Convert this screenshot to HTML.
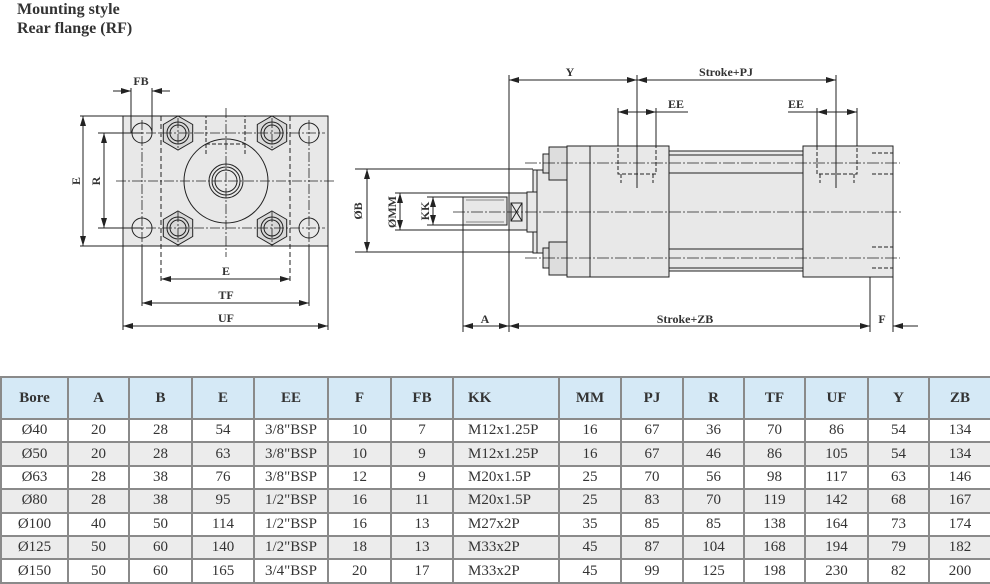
<!DOCTYPE html>
<html><head><meta charset="utf-8"><style>
html,body{margin:0;padding:0;background:#fff;}
body{width:990px;height:582px;position:relative;overflow:hidden;font-family:"Liberation Serif",serif;}
.t{position:absolute;left:17px;font-weight:bold;font-size:16px;color:#333;}
svg{position:absolute;left:0;top:0;}
table{position:absolute;left:0;top:376px;border-collapse:collapse;table-layout:fixed;width:990px;font-family:"Liberation Serif",serif;font-size:15px;color:#333;}
td,th{border:2px solid #8a8a8a;text-align:center;padding:0;}
th{background:#d5e9f6;height:40px;font-weight:bold;}
td{height:21.4px;}
tr.g td{background:#ececec;}
td.l{text-align:left;padding-left:14px;}
</style></head><body>
<div class="t" style="top:1px">Mounting style</div>
<div class="t" style="top:20px">Rear flange (RF)</div>
<svg width="990" height="376" viewBox="0 0 990 376" font-family="Liberation Serif, serif" font-size="12" font-weight="bold" fill="#333">
<defs>
<marker id="a" viewBox="0 0 10 6" refX="10" refY="3" markerWidth="10" markerHeight="6" orient="auto-start-reverse"><path d="M0,0L10,3L0,6z" fill="#222"/></marker>
</defs>
<g stroke="#222" stroke-width="1" fill="none">
<rect x="123" y="116" width="205" height="130" fill="#e8e8e8"/>
<line x1="161" y1="116" x2="161" y2="283" stroke-dasharray="5,3"/>
<line x1="290" y1="116" x2="290" y2="283" stroke-dasharray="5,3"/>
<rect x="206" y="116" width="39" height="28" stroke-dasharray="4,2"/>
<line x1="206" y1="144" x2="206" y2="154" stroke-dasharray="4,2"/>
<line x1="245" y1="144" x2="245" y2="154" stroke-dasharray="4,2"/>
<circle cx="226" cy="181" r="42"/>
<circle cx="226" cy="181" r="17"/><circle cx="226" cy="181" r="14"/><circle cx="226" cy="181" r="11"/>
<g>
<circle cx="142" cy="133" r="10"/><circle cx="309" cy="133" r="10"/>
<circle cx="142" cy="228" r="10"/><circle cx="309" cy="228" r="10"/>
</g>
<g fill="#d8d8d8">
<path d="M178,116 L192.7,124.5 L192.7,141.5 L178,150 L163.3,141.5 L163.3,124.5Z"/>
<path d="M272,116 L286.7,124.5 L286.7,141.5 L272,150 L257.3,141.5 L257.3,124.5Z"/>
<path d="M178,211 L192.7,219.5 L192.7,236.5 L178,245 L163.3,236.5 L163.3,219.5Z"/>
<path d="M272,211 L286.7,219.5 L286.7,236.5 L272,245 L257.3,236.5 L257.3,219.5Z"/>
</g>
<circle cx="178" cy="133" r="11"/><circle cx="178" cy="133" r="8"/>
<circle cx="272" cy="133" r="11"/><circle cx="272" cy="133" r="8"/>
<circle cx="178" cy="228" r="11"/><circle cx="178" cy="228" r="8"/>
<circle cx="272" cy="228" r="11"/><circle cx="272" cy="228" r="8"/>
<g stroke-dasharray="10,2,2,2" stroke-width="0.8">
<line x1="116" y1="181" x2="335" y2="181"/>
<line x1="226" y1="108" x2="226" y2="257"/>
<line x1="130" y1="133" x2="325" y2="133"/>
<line x1="130" y1="228" x2="325" y2="228"/>
<line x1="142" y1="120" x2="142" y2="246"/>
<line x1="309" y1="120" x2="309" y2="246"/>
<line x1="178" y1="118" x2="178" y2="150"/><line x1="272" y1="118" x2="272" y2="150"/>
<line x1="178" y1="212" x2="178" y2="245"/><line x1="272" y1="212" x2="272" y2="245"/>
</g>
<line x1="131" y1="88" x2="131" y2="133"/><line x1="152" y1="88" x2="152" y2="133"/>
<line x1="113" y1="91" x2="131" y2="91" marker-end="url(#a)"/>
<line x1="170" y1="91" x2="152" y2="91" marker-end="url(#a)"/>
<line x1="80" y1="116" x2="123" y2="116"/><line x1="80" y1="246" x2="123" y2="246"/>
<line x1="83" y1="116" x2="83" y2="246" marker-start="url(#a)" marker-end="url(#a)"/>
<line x1="98" y1="133" x2="142" y2="133"/><line x1="98" y1="228" x2="142" y2="228"/>
<line x1="104" y1="133" x2="104" y2="228" marker-start="url(#a)" marker-end="url(#a)"/>
<line x1="142" y1="246" x2="142" y2="306"/><line x1="309" y1="246" x2="309" y2="306"/>
<line x1="123" y1="246" x2="123" y2="330"/><line x1="328" y1="246" x2="328" y2="330"/>
<line x1="161" y1="279" x2="290" y2="279" marker-start="url(#a)" marker-end="url(#a)"/>
<line x1="142" y1="303" x2="309" y2="303" marker-start="url(#a)" marker-end="url(#a)"/>
<line x1="123" y1="326" x2="328" y2="326" marker-start="url(#a)" marker-end="url(#a)"/>

<rect x="669" y="173" width="134" height="76" fill="#e8e8e8"/>
<rect x="669" y="151" width="134" height="22" fill="#e8e8e8"/>
<rect x="669" y="249" width="134" height="22" fill="#e8e8e8"/>
<line x1="669" y1="155" x2="803" y2="155"/><line x1="669" y1="268" x2="803" y2="268"/>
<rect x="533" y="170" width="34" height="83" fill="#e8e8e8"/>
<line x1="537" y1="170" x2="537" y2="253"/>
<rect x="567" y="146" width="102" height="131" fill="#e8e8e8"/>
<line x1="590" y1="146" x2="590" y2="277"/>
<rect x="803" y="146" width="90" height="131" fill="#e8e8e8"/>
<rect x="549" y="147" width="18" height="33" fill="#ddd"/>
<rect x="543" y="154" width="6" height="19" fill="#ddd"/>
<rect x="549" y="242" width="18" height="33" fill="#ddd"/>
<rect x="543" y="248" width="6" height="20" fill="#ddd"/>
<rect x="527" y="192" width="10" height="40" fill="#e8e8e8"/>
<rect x="509" y="193" width="18" height="37" fill="#e8e8e8"/>
<rect x="511" y="203" width="11" height="18"/>
<line x1="511" y1="203" x2="522" y2="221"/><line x1="522" y1="203" x2="511" y2="221"/>
<rect x="463" y="197" width="44" height="28" fill="#e8e8e8"/>
<line x1="466" y1="200" x2="504" y2="200" stroke="#888"/><line x1="466" y1="222" x2="504" y2="222" stroke="#888"/>
<g stroke-dasharray="4,2">
<rect x="618" y="146" width="38" height="28"/>
<line x1="621" y1="174" x2="621" y2="183"/><line x1="653" y1="174" x2="653" y2="183"/>
<rect x="817" y="146" width="40" height="28"/>
<line x1="820" y1="174" x2="820" y2="183"/><line x1="854" y1="174" x2="854" y2="183"/>
<line x1="872" y1="153" x2="893" y2="153"/><line x1="872" y1="174" x2="893" y2="174"/>
<line x1="872" y1="247" x2="893" y2="247"/><line x1="872" y1="268" x2="893" y2="268"/>
</g>
<g stroke-dasharray="12,2,2,2" stroke-width="0.8">
<line x1="453" y1="212" x2="903" y2="212"/>
<line x1="525" y1="163" x2="900" y2="163"/>
<line x1="525" y1="258" x2="900" y2="258"/>
</g>
<line x1="509" y1="75" x2="509" y2="332"/>
<line x1="637" y1="75" x2="637" y2="188"/>
<line x1="836" y1="75" x2="836" y2="188"/>
<line x1="509" y1="80" x2="637" y2="80" marker-start="url(#a)" marker-end="url(#a)"/>
<line x1="637" y1="80" x2="836" y2="80" marker-start="url(#a)" marker-end="url(#a)"/>
<line x1="618" y1="108" x2="618" y2="146"/><line x1="656" y1="108" x2="656" y2="146"/>
<line x1="618" y1="112" x2="656" y2="112" marker-start="url(#a)" marker-end="url(#a)"/>
<line x1="656" y1="112" x2="688" y2="112"/>
<line x1="817" y1="108" x2="817" y2="146"/><line x1="857" y1="108" x2="857" y2="146"/>
<line x1="817" y1="112" x2="857" y2="112" marker-start="url(#a)" marker-end="url(#a)"/>
<line x1="788" y1="112" x2="817" y2="112"/>
<line x1="355" y1="169" x2="533" y2="169"/><line x1="355" y1="252" x2="533" y2="252"/>
<line x1="367" y1="169" x2="367" y2="252" marker-start="url(#a)" marker-end="url(#a)"/>
<line x1="395" y1="193" x2="509" y2="193"/><line x1="395" y1="230" x2="509" y2="230"/>
<line x1="400" y1="193" x2="400" y2="230" marker-start="url(#a)" marker-end="url(#a)"/>
<line x1="427" y1="197" x2="463" y2="197"/><line x1="427" y1="225" x2="463" y2="225"/>
<line x1="433" y1="197" x2="433" y2="225" marker-start="url(#a)" marker-end="url(#a)"/>
<line x1="463" y1="225" x2="463" y2="332"/>
<line x1="870" y1="277" x2="870" y2="332"/><line x1="893" y1="277" x2="893" y2="332"/>
<line x1="463" y1="326" x2="509" y2="326" marker-start="url(#a)" marker-end="url(#a)"/>
<line x1="509" y1="326" x2="870" y2="326" marker-start="url(#a)" marker-end="url(#a)"/>
<line x1="918" y1="326" x2="893" y2="326" marker-end="url(#a)"/>
</g>
<g stroke="none" text-anchor="middle">
<text x="141" y="85">FB</text>
<text x="226" y="275">E</text>
<text x="226" y="299">TF</text>
<text x="226" y="322">UF</text>
<text transform="translate(80,181) rotate(-90)">E</text>
<text transform="translate(100,181) rotate(-90)">R</text>
<text x="570" y="76">Y</text>
<text x="726" y="76">Stroke+PJ</text>
<text x="676" y="108">EE</text>
<text x="796" y="108">EE</text>
<text transform="translate(362,211) rotate(-90)">ØB</text>
<text transform="translate(396,212) rotate(-90)">ØMM</text>
<text transform="translate(429,211) rotate(-90)">KK</text>
<text x="485" y="323">A</text>
<text x="685" y="323">Stroke+ZB</text>
<text x="882" y="323">F</text>
</g>
</svg>
<table>
<colgroup><col style="width:67px"><col style="width:61px"><col style="width:63px"><col style="width:62px"><col style="width:74px"><col style="width:63px"><col style="width:62px"><col style="width:106px"><col style="width:62px"><col style="width:62px"><col style="width:61px"><col style="width:61px"><col style="width:63px"><col style="width:61px"><col style="width:62px"></colgroup>
<tr><th>Bore</th><th>A</th><th>B</th><th>E</th><th>EE</th><th>F</th><th>FB</th><th style="text-align:left;padding-left:14px">KK</th><th>MM</th><th>PJ</th><th>R</th><th>TF</th><th>UF</th><th>Y</th><th>ZB</th></tr>
<tr><td>Ø40</td><td>20</td><td>28</td><td>54</td><td>3/8"BSP</td><td>10</td><td>7</td><td class="l">M12x1.25P</td><td>16</td><td>67</td><td>36</td><td>70</td><td>86</td><td>54</td><td>134</td></tr>
<tr class="g"><td>Ø50</td><td>20</td><td>28</td><td>63</td><td>3/8"BSP</td><td>10</td><td>9</td><td class="l">M12x1.25P</td><td>16</td><td>67</td><td>46</td><td>86</td><td>105</td><td>54</td><td>134</td></tr>
<tr><td>Ø63</td><td>28</td><td>38</td><td>76</td><td>3/8"BSP</td><td>12</td><td>9</td><td class="l">M20x1.5P</td><td>25</td><td>70</td><td>56</td><td>98</td><td>117</td><td>63</td><td>146</td></tr>
<tr class="g"><td>Ø80</td><td>28</td><td>38</td><td>95</td><td>1/2"BSP</td><td>16</td><td>11</td><td class="l">M20x1.5P</td><td>25</td><td>83</td><td>70</td><td>119</td><td>142</td><td>68</td><td>167</td></tr>
<tr><td>Ø100</td><td>40</td><td>50</td><td>114</td><td>1/2"BSP</td><td>16</td><td>13</td><td class="l">M27x2P</td><td>35</td><td>85</td><td>85</td><td>138</td><td>164</td><td>73</td><td>174</td></tr>
<tr class="g"><td>Ø125</td><td>50</td><td>60</td><td>140</td><td>1/2"BSP</td><td>18</td><td>13</td><td class="l">M33x2P</td><td>45</td><td>87</td><td>104</td><td>168</td><td>194</td><td>79</td><td>182</td></tr>
<tr><td>Ø150</td><td>50</td><td>60</td><td>165</td><td>3/4"BSP</td><td>20</td><td>17</td><td class="l">M33x2P</td><td>45</td><td>99</td><td>125</td><td>198</td><td>230</td><td>82</td><td>200</td></tr>
</table>
</body></html>
